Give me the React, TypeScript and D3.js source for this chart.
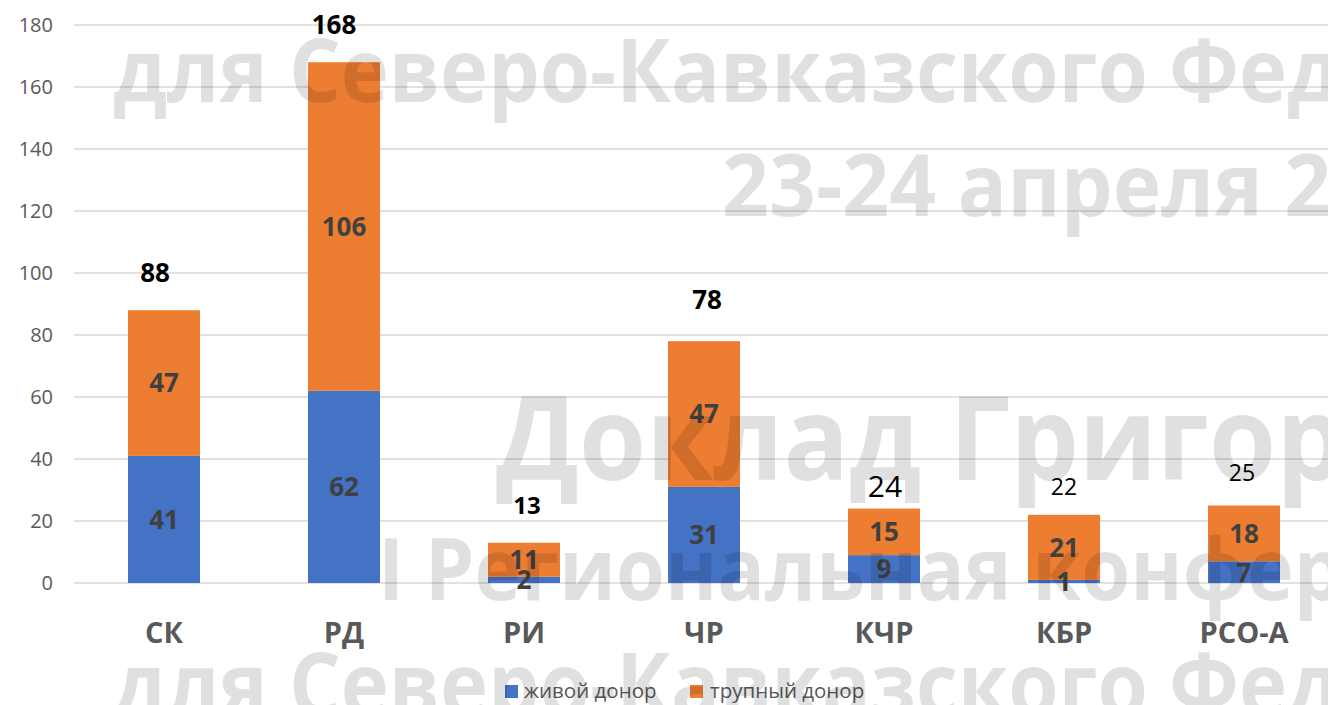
import React from "react";
import * as d3 from "d3";

const categories = ["СК", "РД", "РИ", "ЧР", "КЧР", "КБР", "РСО-А"];
const liveDonor = [41, 62, 2, 31, 9, 1, 7];
const deceasedDonor = [47, 106, 11, 47, 15, 21, 18];
const totals = [88, 168, 13, 78, 24, 22, 25];
const yTicks = [0, 20, 40, 60, 80, 100, 120, 140, 160, 180];
const seriesNames = ["живой донор", "трупный донор"];
const watermarkLines = [
  "для Северо-Кавказского Федерального округа",
  "23-24 апреля 2024",
  "Доклад Григорьева",
  "I Региональная конференция",
  "для Северо-Кавказского Федерального округа",
];

// label styling (not data)
const totalLabelStyle = [
  { dx: -9, dy: 38, size: 26, weight: 700 },
  { dx: -10, dy: 38, size: 26, weight: 700 },
  { dx: 3, dy: 37, size: 24, weight: 700 },
  { dx: 3, dy: 42, size: 26, weight: 700 },
  { dx: 1, dy: 22, size: 30, weight: 400 },
  { dx: 0, dy: 28, size: 23, weight: 400 },
  { dx: -2, dy: 33, size: 23, weight: 400 },
];
const watermarkStyle = [
  { x: 113, y: 102, size: 88, sx: 0.925 },
  { x: 722, y: 216, size: 86, sx: 0.955 },
  { x: 496, y: 480, size: 116, sx: 0.936 },
  { x: 378, y: 600, size: 86, sx: 0.92 },
  { x: 113, y: 716, size: 88, sx: 0.925 },
];

const W = 1328;
const H = 705;
const BLUE = "#4472C4";
const ORANGE = "#ED7D31";
const FONT = "'Open Sans', 'DejaVu Sans', sans-serif";

export default function App() {
  const x = d3
    .scaleBand<string>()
    .domain(categories)
    .range([74, 1334])
    .paddingInner(0.6)
    .paddingOuter(0.3);
  const y = d3.scaleLinear().domain([0, 180]).range([583, 25]);

  const stackData = categories.map((c, i) => ({
    cat: c,
    live: liveDonor[i],
    dead: deceasedDonor[i],
  }));
  const stack = d3.stack<any>().keys(["live", "dead"])(stackData);
  const colors = [BLUE, ORANGE];

  return (
    <svg
      width={W}
      height={H}
      style={{ position: "absolute", left: 0, top: 0, background: "#fff" }}
      fontFamily={FONT}
    >
      <rect width={W} height={H} fill="#fff" />
      {yTicks.map((t) => (
        <g key={t}>
          <line x1={74} x2={W} y1={y(t)} y2={y(t)} stroke="#D9D9D9" strokeWidth={1.5} />
          <text
            x={53}
            y={y(t)}
            dy="0.35em"
            textAnchor="end"
            fontSize={20}
            fill="#595959"
          >
            {t}
          </text>
        </g>
      ))}
      {stack.map((layer, li) => (
        <g key={li}>
          {layer.map((d, i) => (
            <rect
              key={i}
              x={x(categories[i])!}
              width={x.bandwidth()}
              y={y(d[1])}
              height={y(d[0]) - y(d[1])}
              fill={colors[li]}
            />
          ))}
        </g>
      ))}
      {stack.map((layer, li) => (
        <g key={"l" + li}>
          {layer.map((d, i) => (
            <text
              key={i}
              x={x(categories[i])! + x.bandwidth() / 2}
              y={y((d[0] + d[1]) / 2)}
              dy="0.36em"
              textAnchor="middle"
              fontSize={26}
              fontWeight={700}
              fill="#404040"
            >
              {d[1] - d[0]}
            </text>
          ))}
        </g>
      ))}
      {totals.map((t, i) => {
        const s = totalLabelStyle[i];
        return (
          <text
            key={"t" + i}
            x={x(categories[i])! + x.bandwidth() / 2 + s.dx}
            y={y(t) - s.dy}
            dy="0.36em"
            textAnchor="middle"
            fontSize={s.size}
            fontWeight={s.weight}
            fill="#000"
          >
            {t}
          </text>
        );
      })}
      {categories.map((c) => (
        <text
          key={c}
          x={x(c)! + x.bandwidth() / 2}
          y={643}
          textAnchor="middle"
          fontSize={29}
          fontWeight={700}
          fill="#595959"
        >
          {c}
        </text>
      ))}
      <g>
        <rect x={505} y={685} width={13} height={13} fill={BLUE} />
        <text x={524} y={698} fontSize={20.5} fill="#595959">
          {seriesNames[0]}
        </text>
        <rect x={690} y={685} width={13} height={13} fill={ORANGE} />
        <text x={710} y={698} fontSize={20.5} fill="#595959">
          {seriesNames[1]}
        </text>
      </g>
      <g fill="#000" fillOpacity={0.12} fontWeight={700} pointerEvents="none">
        {watermarkLines.map((l, i) => {
          const s = watermarkStyle[i];
          return (
            <text
              key={"w" + i}
              transform={`translate(${s.x},${s.y}) scale(${s.sx},1)`}
              fontSize={s.size}
            >
              {l}
            </text>
          );
        })}
      </g>
    </svg>
  );
}
